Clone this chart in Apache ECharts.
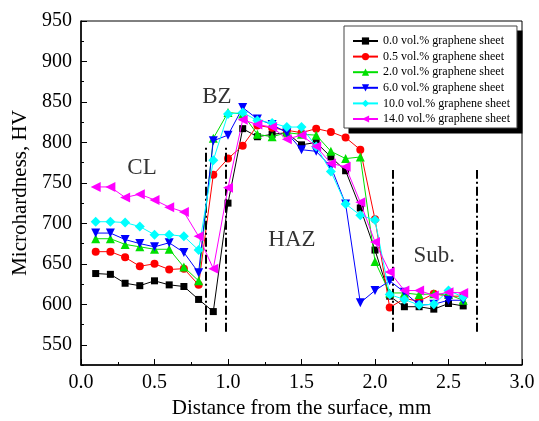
<!DOCTYPE html>
<html>
<head>
<meta charset="utf-8">
<script src="https://cdn.jsdelivr.net/npm/echarts@6/dist/echarts.min.js"></script>
<style>html,body{margin:0;padding:0;background:#fff}#c{width:539px;height:421px}</style>
</head>
<body>
<div id="c"></div>
<script>
var xValues = [0.1,0.2,0.3,0.4,0.5,0.6,0.7,0.8,0.9,1.0,1.1,1.2,1.3,1.4,1.5,1.6,1.7,1.8,1.9,2.0,2.1,2.2,2.3,2.4,2.5,2.6];
var gs00 = [638,637,626,623,629,624,622,606,591,725,817,807,810,812,797,800,782,765,719,667,610,597,597,594,601,598];
var gs05 = [665,665,658,647,650,643,644,624,760,780,796,821,818,815,812,817,813,806,791,705,596,607,604,613,610,610];
var gs20 = [681,681,674,671,668,668,646,629,805,837,835,810,807,812,810,809,789,780,782,653,614,614,612,613,612,605];
var gs60 = [688,688,680,675,671,676,664,639,802,809,843,829,822,812,791,789,770,724,602,617,629,615,599,600,605,605];
var gs100 = [702,702,701,696,686,686,684,667,778,835,837,827,824,819,819,795,764,724,710,704,612,606,599,600,617,609];
var gs140 = [745,745,732,736,729,720,714,684,644,744,828,822,819,804,809,795,774,770,726,677,640,617,617,611,615,614];
var seriesNames = ['0.0 vol.% graphene sheet','0.5 vol.% graphene sheet','2.0 vol.% graphene sheet','6.0 vol.% graphene sheet','10.0 vol.% graphene sheet','14.0 vol.% graphene sheet'];
var xTicks = [0,0.5,1.0,1.5,2.0,2.5,3.0];
var yTicks = [550,600,650,700,750,800,850,900,950];
var zoneLines = [[0.846,566,795],[0.982,566,795],[2.121,566,766],[2.689,566,766]];
var zoneLabels = [['CL',0.415,768],['BZ',0.925,856],['HAZ',1.435,679],['Sub.',2.403,660]];

var FONT = "'Liberation Serif','Times New Roman',serif";
var colors = ['#000000','#ff0000','#00e000','#0000ff','#00ffff','#ff00ff'];
var symbols = ['rect','circle','triangle','triangle','diamond','triangle'];
var rotates = [0,0,0,180,0,90];
var sizes = [7,8,9,9,10,10];
var datasets = [gs00,gs05,gs20,gs60,gs100,gs140];

function pairs(arr){ return xValues.map(function(x,i){ return [x,arr[i]]; }); }

var series = datasets.map(function(d,i){
  return {
    name: seriesNames[i], type:'line', data: pairs(d),
    symbol: symbols[i], symbolSize: sizes[i], symbolRotate: rotates[i],
    lineStyle:{color:colors[i], width:1}, itemStyle:{color:colors[i]},
    z: 3 + i
  };
});

series.push({
  type:'scatter', name:'zones', silent:true, symbolSize:0,
  data: zoneLabels.map(function(l){ return {name:l[0], value:[l[1],l[2]]}; }),
  label:{show:true, position:'inside', formatter:'{b}', fontFamily:FONT, fontSize:23, color:'#000'},
  markLine:{
    silent:true, symbol:['none','none'], label:{show:false},
    lineStyle:{color:'#000', width:2, type:[9,3,2,3]},
    data: zoneLines.map(function(z){ return [{coord:[z[0],z[1]]},{coord:[z[0],z[2]]}]; })
  },
  z: 2
});

var chart = echarts.init(document.getElementById('c'), null, {renderer:'canvas'});
chart.setOption({
  animation:false,
  backgroundColor:'#fff',
  grid:{left:81, right:17, top:21, bottom:56, containLabel:false, outerBoundsMode:'none', show:true, borderColor:'#000', borderWidth:1, backgroundColor:'transparent'},
  legend:{
    data: seriesNames, orient:'vertical', left:344, top:26,
    itemWidth:25, itemHeight:9, itemGap:3.6,
    textStyle:{fontFamily:FONT, fontSize:12, lineHeight:12, color:'#000'},
    padding:[9,7,3,8],
    backgroundColor:'#fff', borderColor:'#444', borderWidth:1, z:20
  },
  xAxis:{
    type:'value', min:0, max:3, interval:0.5,
    name:'Distance from the surface, mm', nameLocation:'middle', nameGap:33,
    nameTextStyle:{fontFamily:FONT, fontSize:21, color:'#000'},
    axisLine:{show:true, lineStyle:{color:'#000', width:1.5}},
    axisTick:{show:true, inside:true, length:6, lineStyle:{color:'#000', width:1}},
    minorTick:{show:true, splitNumber:2, length:3, lineStyle:{color:'#000'}},
    axisLabel:{fontFamily:FONT, fontSize:20, color:'#000', margin:8, formatter:function(v){return v.toFixed(1);}},
    splitLine:{show:false}
  },
  yAxis:[{
    type:'value', min:525, max:950,
    name:'Microhardness, HV', nameLocation:'middle', nameGap:50,
    nameTextStyle:{fontFamily:FONT, fontSize:21, color:'#000'},
    axisLine:{show:true, lineStyle:{color:'#000', width:1.5}},
    axisTick:{show:true, inside:true, length:6, customValues:yTicks, lineStyle:{color:'#000'}},
    axisLabel:{fontFamily:FONT, fontSize:20, color:'#000', margin:9, customValues:yTicks},
    splitLine:{show:false}
  },{
    type:'value', min:525, max:950, interval:25, position:'left',
    axisLine:{show:false},
    axisTick:{show:true, inside:true, length:3, lineStyle:{color:'#000'}},
    axisLabel:{show:false}, splitLine:{show:false}
  }],
  series: series
});

// legend drop shadow, sized from the rendered legend box
(function(){
  var legendView = chart.getViewOfComponentModel(chart.getModel().getComponent('legend'));
  var rect = legendView && legendView.group ? legendView.group.getBoundingRect() : null;
  var g = legendView ? legendView.group : null;
  var x = 344, y = 26, w = 173, h = 102;
  if (rect && g) {
    x = g.x + rect.x; y = g.y + rect.y; w = rect.width; h = rect.height;
  }
  chart.setOption({
    graphic:[{type:'rect', z:19, silent:true, shape:{x:x+5, y:y+5, width:w, height:h}, style:{fill:'#000'}}]
  });
})();
</script>
</body>
</html>
